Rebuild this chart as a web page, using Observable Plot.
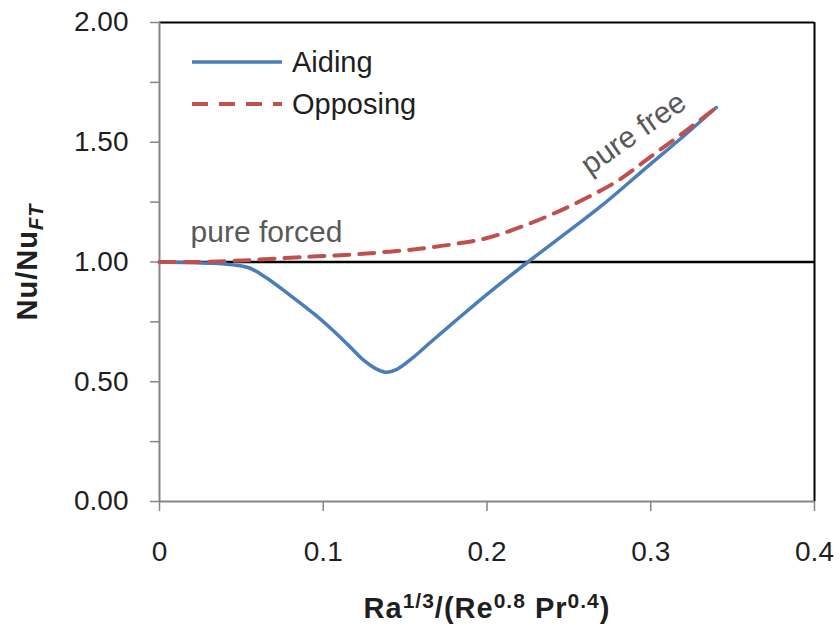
<!DOCTYPE html>
<html>
<head>
<meta charset="utf-8">
<script src="https://cdn.jsdelivr.net/npm/d3@7"></script>
<script src="https://cdn.jsdelivr.net/npm/@observablehq/plot@0.6"></script>
<style>
  html, body { margin: 0; padding: 0; background: #ffffff; }
  #chart { width: 840px; height: 631px; }
</style>
</head>
<body>
<div id="chart"></div>
<script>
// ---- data ----
const aidingX = [0, 0.03, 0.045, 0.055, 0.065, 0.08, 0.095, 0.105, 0.115, 0.125, 0.132, 0.138, 0.145, 0.155, 0.165, 0.18, 0.2, 0.225, 0.25, 0.27, 0.3, 0.32, 0.34];
const aidingY = [1.0, 0.995, 0.988, 0.975, 0.935, 0.86, 0.78, 0.72, 0.655, 0.588, 0.555, 0.54, 0.552, 0.602, 0.662, 0.75, 0.865, 1.0, 1.13, 1.235, 1.41, 1.525, 1.645];
const opposingX = [0, 0.02, 0.05, 0.08, 0.1, 0.12, 0.14, 0.16, 0.18, 0.2, 0.22, 0.24, 0.26, 0.28, 0.3, 0.32, 0.339];
const opposingY = [1.0, 1.0, 1.006, 1.018, 1.025, 1.032, 1.043, 1.056, 1.075, 1.10, 1.145, 1.2, 1.265, 1.34, 1.44, 1.54, 1.64];
const seriesNames = ["Aiding", "Opposing"];
const xTicks = [0, 0.1, 0.2, 0.3, 0.4];
const xTickLabels = ["0", "0.1", "0.2", "0.3", "0.4"];
const yTicks = [0, 0.5, 1, 1.5, 2];
const yTickLabels = ["0.00", "0.50", "1.00", "1.50", "2.00"];
const yMinorTicks = [0.25, 0.75, 1.25, 1.75];
const referenceLevel = [1];
const noteForced = [{x: 0.019, y: 1.125, text: "pure forced"}];
const noteFree = [{x: 0.2894, y: 1.537, text: "pure free"}];

const aiding = aidingX.map((x, i) => ({x, y: aidingY[i]}));
const opposing = opposingX.map((x, i) => ({x, y: opposingY[i]}));

const BLUE = "#4a7ebb";
const RED = "#c0504d";
const GRAY = "#868686";
const TEXT = "#1f1f1f";
const FONT = "'Liberation Sans', Arial, Helvetica, sans-serif";

const chart = Plot.plot({
  width: 840,
  height: 631,
  marginLeft: 159,
  marginRight: 26,
  marginTop: 22,
  marginBottom: 130,
  style: {fontFamily: FONT, fontSize: "28px", background: "#ffffff", color: TEXT},
  x: {domain: [0, 0.4], label: null},
  y: {domain: [0, 2], label: null},
  marks: [
    // top and right borders
    Plot.ruleY([2], {stroke: "#000000", strokeWidth: 2}),
    Plot.ruleX([0.4], {stroke: "#000000", strokeWidth: 2}),
    // axes
    Plot.axisX(xTicks, {
      tickSize: 10, tickPadding: 30, stroke: GRAY, fill: TEXT, strokeWidth: 1.5,
      tickFormat: d => xTickLabels[xTicks.indexOf(d)], label: null, fontSize: 28
    }),
    Plot.axisY(yTicks, {
      tickSize: 9, tickPadding: 22, stroke: GRAY, fill: TEXT, strokeWidth: 1.5,
      tickFormat: d => yTickLabels[yTicks.indexOf(d)], label: null, fontSize: 28
    }),
    Plot.axisY(yMinorTicks, {
      tickSize: 9, stroke: GRAY, strokeWidth: 1.5, tickFormat: () => "", label: null
    }),
    Plot.ruleX([0], {stroke: GRAY, strokeWidth: 2}),
    Plot.ruleY([0], {stroke: GRAY, strokeWidth: 2}),
    // reference line
    Plot.ruleY(referenceLevel, {stroke: "#000000", strokeWidth: 2.4}),
    // series
    Plot.line(aiding, {x: "x", y: "y", stroke: BLUE, strokeWidth: 3.5, curve: "catmull-rom"}),
    Plot.line(opposing, {x: "x", y: "y", stroke: RED, strokeWidth: 4, strokeDasharray: "15,10", curve: "catmull-rom"}),
    // annotations
    Plot.text(noteForced, {
      x: "x", y: "y", text: "text", textAnchor: "start",
      fill: "#595959", fontSize: 30, lineAnchor: "middle"
    }),
    Plot.text(noteFree, {
      x: "x", y: "y", text: "text", rotate: -35, textAnchor: "middle",
      fill: "#595959", fontSize: 30, lineAnchor: "middle"
    })
  ]
});

document.getElementById("chart").appendChild(chart);

const svg = d3.select(chart);

// legend
const legend = svg.append("g").attr("font-family", FONT).attr("font-size", 29)
  .attr("fill", TEXT).attr("text-anchor", "start");
const legendRows = [
  {name: seriesNames[0], color: BLUE, dash: null, width: 3.5, y: 62},
  {name: seriesNames[1], color: RED, dash: "16,11", width: 4, y: 104}
];
legendRows.forEach(r => {
  legend.append("line")
    .attr("x1", 192).attr("x2", 282).attr("y1", r.y).attr("y2", r.y)
    .attr("stroke", r.color).attr("stroke-width", r.width)
    .attr("stroke-dasharray", r.dash);
  legend.append("text")
    .attr("x", 292).attr("y", r.y).attr("dy", "0.35em")
    .text(r.name);
});

// x axis title
const xt = svg.append("text")
  .attr("x", 487).attr("y", 618)
  .attr("text-anchor", "middle")
  .attr("letter-spacing", 1)
  .attr("font-family", FONT).attr("font-weight", "bold").attr("font-size", 29).attr("fill", TEXT);
xt.append("tspan").text("Ra");
xt.append("tspan").attr("font-size", 21).attr("dy", -10).text("1/3");
xt.append("tspan").attr("dy", 10).text("/(Re");
xt.append("tspan").attr("font-size", 21).attr("dy", -10).text("0.8");
xt.append("tspan").attr("dy", 10).text(" Pr");
xt.append("tspan").attr("font-size", 21).attr("dy", -10).text("0.4");
xt.append("tspan").attr("dy", 10).text(")");

// y axis title
const yt = svg.append("text")
  .attr("transform", "translate(37,262) rotate(-90)")
  .attr("text-anchor", "middle")
  .attr("letter-spacing", 1)
  .attr("font-family", FONT).attr("font-weight", "bold").attr("font-size", 29).attr("fill", TEXT);
yt.append("tspan").text("Nu/Nu");
yt.append("tspan").attr("font-size", 20).attr("font-style", "italic").attr("dy", 6).text("FT");
</script>
</body>
</html>
